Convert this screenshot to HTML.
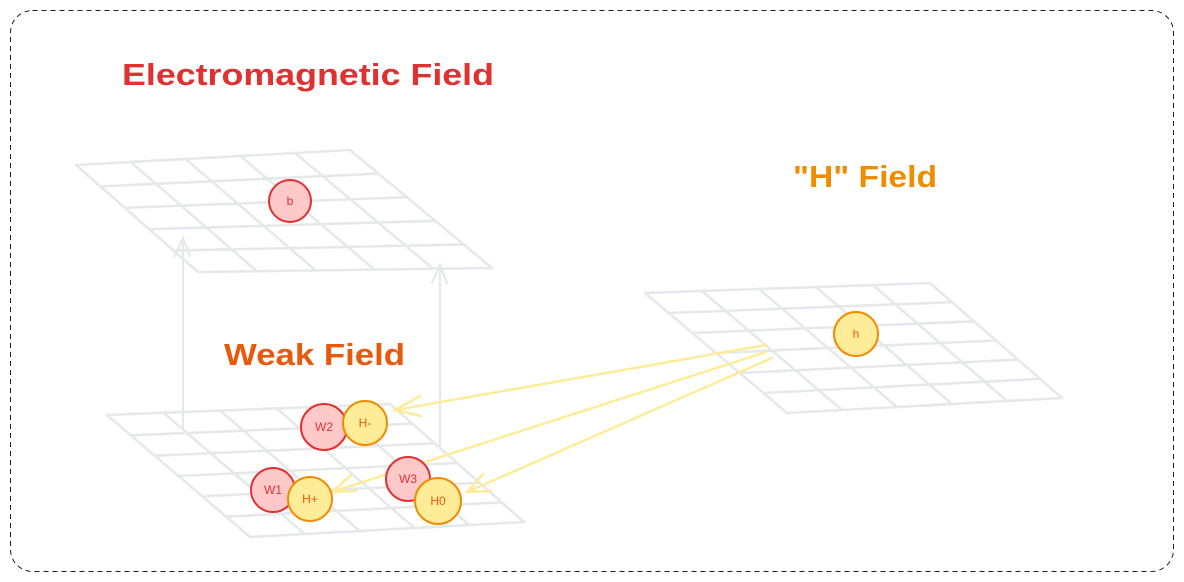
<!DOCTYPE html>
<html><head><meta charset="utf-8"><style>
html,body{margin:0;padding:0;background:#fff;width:1184px;height:582px;overflow:hidden}
svg{display:block}
text{font-family:"Liberation Sans",sans-serif}
</style></head><body>
<svg id="s" width="1184" height="582" viewBox="0 0 1184 582" xmlns="http://www.w3.org/2000/svg">
<rect x="10.5" y="10.5" width="1163" height="561" rx="22" fill="none" stroke="#1e1e1e" stroke-width="1" stroke-dasharray="5,4"/>
<g id="grids" stroke="#e6e8eb" stroke-width="2.6" fill="none" stroke-linecap="round"></g>
<g stroke="#e6e8eb" stroke-width="2.2" fill="none" stroke-linecap="round">
<line x1="183" y1="430" x2="183" y2="238"/><polyline points="175,256 183,238 190,256"/>
<line x1="440" y1="445" x2="440" y2="265"/><polyline points="432,283 440,265 447,283"/>
</g>
<g font-weight="bold">
<text x="122" y="85" font-size="31" fill="#e03131" textLength="372" lengthAdjust="spacingAndGlyphs">Electromagnetic Field</text>
<text x="224" y="365" font-size="31" fill="#e8590c" textLength="181" lengthAdjust="spacingAndGlyphs">Weak Field</text>
<text x="793" y="187" font-size="31" fill="#f08c00" textLength="144" lengthAdjust="spacingAndGlyphs">"H" Field</text>
</g>
<g stroke="#ffec99" stroke-width="2.5" fill="none" stroke-linecap="round">
<line x1="766" y1="345" x2="395" y2="410"/><polyline points="420,396 395,410 421,416"/>
<line x1="766" y1="352" x2="332" y2="492"/><polyline points="351,475 332,492 356,491"/>
<line x1="772" y1="358" x2="467" y2="492"/><polyline points="483,474 467,492 491,491"/>
</g>
<g stroke-width="2" font-size="12" text-anchor="middle">
<circle cx="290" cy="201" r="21" fill="#ffc9c9" stroke="#e03131"/><text x="290" y="205" fill="#e03131" stroke="none">b</text>
<circle cx="856" cy="334" r="22" fill="#ffec99" stroke="#f08c00"/><text x="856" y="338" fill="#e8590c" stroke="none">h</text>
<circle cx="324" cy="427" r="23" fill="#ffc9c9" stroke="#e03131"/><text x="324" y="431" fill="#e03131" stroke="none">W2</text>
<circle cx="365" cy="423" r="22" fill="#ffec99" stroke="#f08c00"/><text x="365" y="427" fill="#e8590c" stroke="none">H-</text>
<circle cx="273" cy="490" r="22" fill="#ffc9c9" stroke="#e03131"/><text x="273" y="494" fill="#e03131" stroke="none">W1</text>
<circle cx="310" cy="499" r="22" fill="#ffec99" stroke="#f08c00"/><text x="310" y="503" fill="#e8590c" stroke="none">H+</text>
<circle cx="408" cy="479" r="22" fill="#ffc9c9" stroke="#e03131"/><text x="408" y="483" fill="#e03131" stroke="none">W3</text>
<circle cx="438" cy="501" r="23" fill="#ffec99" stroke="#f08c00"/><text x="438" y="505" fill="#e8590c" stroke="none">H0</text>
</g>
</svg>
<script>
(function(){
var g=document.getElementById('grids'),ns='http://www.w3.org/2000/svg';
function L(a,b){var l=document.createElementNS(ns,'line');l.setAttribute('x1',a[0]);l.setAttribute('y1',a[1]);l.setAttribute('x2',b[0]);l.setAttribute('y2',b[1]);g.appendChild(l);}
function lerp(a,b,t){return [a[0]+(b[0]-a[0])*t,a[1]+(b[1]-a[1])*t];}
function grid(TL,TR,BR,BL,rows,cols){
 for(var i=0;i<=rows;i++){var t=i/rows;L(lerp(TL,BL,t),lerp(TR,BR,t));}
 for(var j=0;j<=cols;j++){var u=j/cols;L(lerp(TL,TR,u),lerp(BL,BR,u));}
}
grid([76,165],[350,150],[492,268],[198,272],5,5);
grid([107,415],[390,404],[524,522],[250,537],6,5);
grid([645,293],[930,283],[1062,398],[787,413],6,5);
})();
</script>
</body></html>
